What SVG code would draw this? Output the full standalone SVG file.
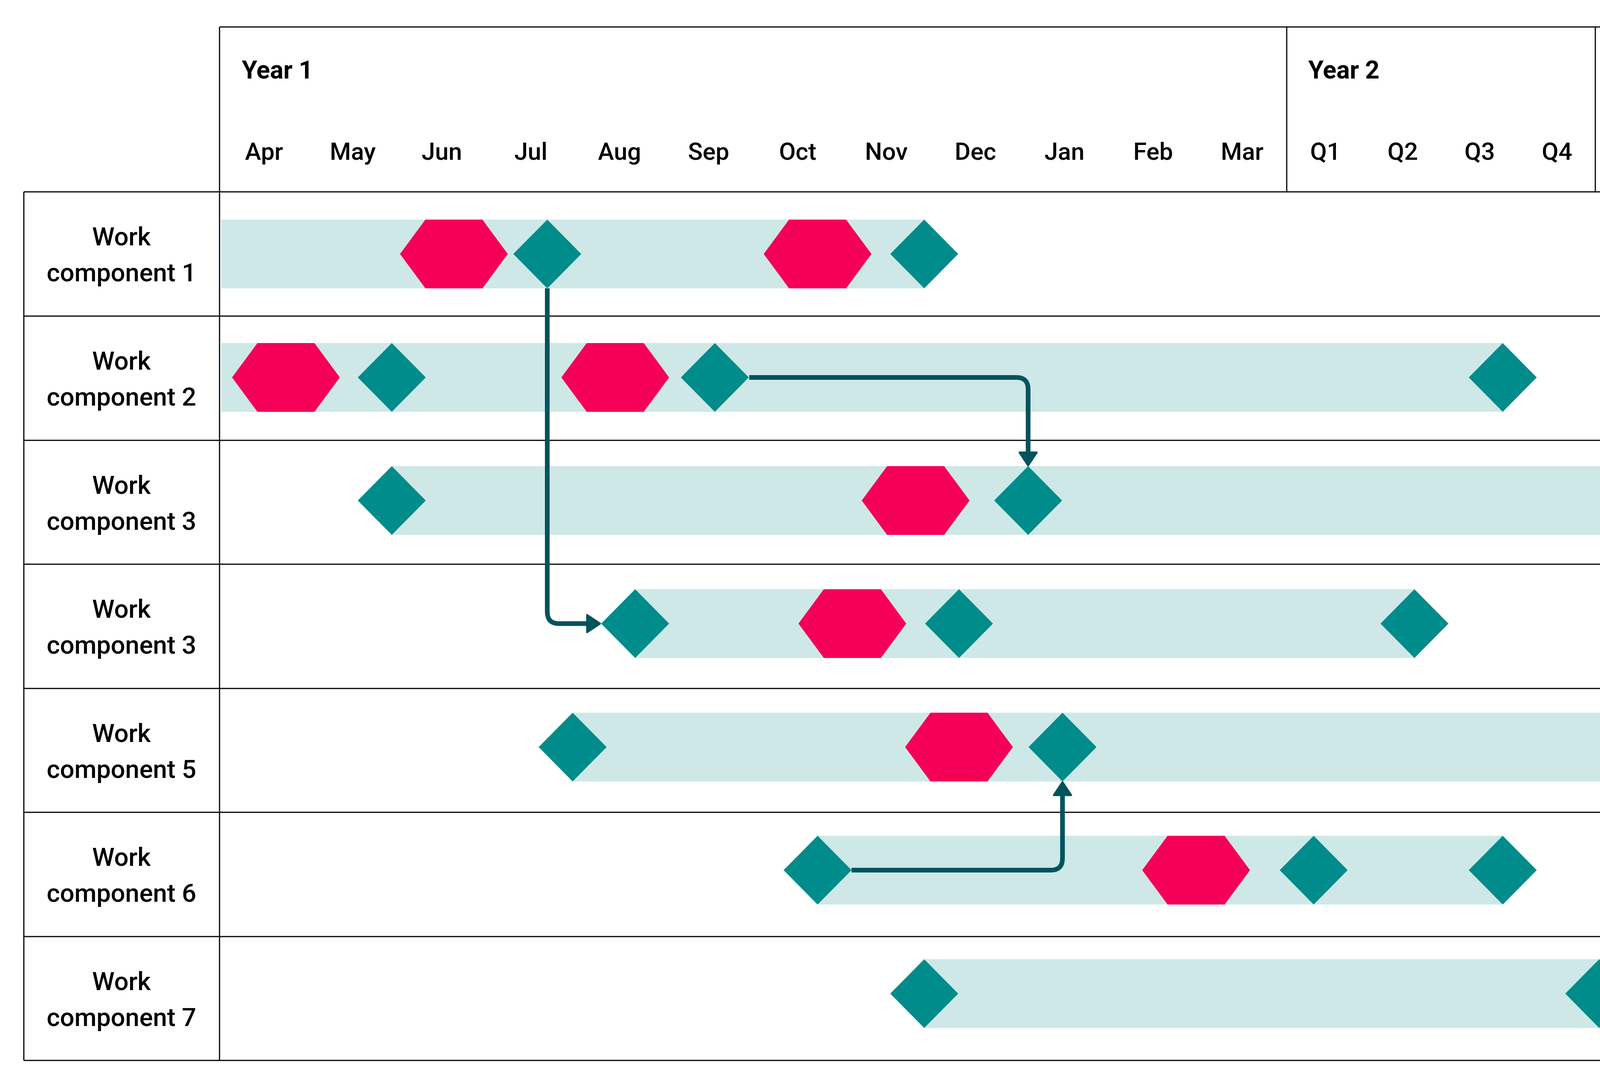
<svg xmlns="http://www.w3.org/2000/svg" width="5000" height="2782" viewBox="0 0 5000 2782">
<style>
.grid{stroke:#000;stroke-width:3;fill:none}
.bar{fill:#CEE8E8}
.hex{fill:#F50057}
.dia{fill:#008C8A}
.hdr{font-family:Roboto,"Liberation Sans",Arial,sans-serif;font-weight:700;font-size:64px;fill:#000}
.mon{font-family:Roboto,"Liberation Sans",Arial,sans-serif;font-weight:500;font-size:62px;fill:#000;text-anchor:middle}
.yc{text-anchor:middle}
.lbl{font-family:Roboto,"Liberation Sans",Arial,sans-serif;font-weight:500;font-size:65px;fill:#000;text-anchor:middle}
.con{stroke:#01535E;stroke-width:12;fill:none}
</style>
<defs>
<polygon id="hx" points="-138,0 -73,-88 73,-88 138,0 73,88 -73,88"/>
<polygon id="dm" points="0,-88 87,0 0,88 -87,0"/>
<marker id="arr" markerUnits="userSpaceOnUse" viewBox="0 0 40 50" refX="1" refY="25" markerWidth="40" markerHeight="50" orient="auto">
<path d="M3,3 L36,25 L3,47 Z" fill="#01535E" stroke="#01535E" stroke-width="5" stroke-linejoin="round"/>
</marker>
</defs>
<rect x="0" y="0" width="5000" height="2782" fill="#fff"/>

<g id="header">
<path class="grid" d="M562,69 H4939 V2714 M562,69 V2714 M3294,69 V491 M4084,69 V491 M4369,69 V491 M4654,69 V491"/>
<text class="hdr" x="619" y="201">Year 1</text>
<text class="hdr" x="3349" y="201">Year 2</text>
<text class="hdr yc" x="4226" y="260">Year</text>
<text class="hdr yc" x="4226" y="350">3</text>
<text class="hdr yc" x="4511" y="260">Year</text>
<text class="hdr yc" x="4511" y="350">4</text>
<text class="hdr yc" x="4796" y="260">Year</text>
<text class="hdr yc" x="4796" y="350">5</text>
<text class="mon" x="676" y="409">Apr</text>
<text class="mon" x="903" y="409">May</text>
<text class="mon" x="1131" y="409">Jun</text>
<text class="mon" x="1359" y="409">Jul</text>
<text class="mon" x="1586" y="409">Aug</text>
<text class="mon" x="1814" y="409">Sep</text>
<text class="mon" x="2042" y="409">Oct</text>
<text class="mon" x="2269" y="409">Nov</text>
<text class="mon" x="2497" y="409">Dec</text>
<text class="mon" x="2725" y="409">Jan</text>
<text class="mon" x="2952" y="409">Feb</text>
<text class="mon" x="3180" y="409">Mar</text>
<text class="mon" x="3393" y="409">Q1</text>
<text class="mon" x="3591" y="409">Q2</text>
<text class="mon" x="3788" y="409">Q3</text>
<text class="mon" x="3986" y="409">Q4</text>
</g>

<g id="rows-grid">
<path class="grid" d="M61,491 H4939 M61,809 H4939 M61,1127 H4939 M61,1444 H4939 M61,1762 H4939 M61,2079 H4939 M61,2397 H4939 M61,2714 H4939 M61,491 V2714"/>
</g>

<g id="row1">
<text class="lbl" x="311" y="628">Work</text>
<text class="lbl" x="311" y="720">component 1</text>
<rect class="bar" x="566" y="562" width="1800" height="176"/>
<use href="#hx" class="hex" x="1162" y="650"/>
<use href="#dm" class="dia" x="1401" y="650"/>
<use href="#hx" class="hex" x="2093" y="650"/>
<use href="#dm" class="dia" x="2366" y="650"/>
</g>

<g id="row2">
<text class="lbl" x="311" y="946">Work</text>
<text class="lbl" x="311" y="1038">component 2</text>
<rect class="bar" x="566" y="878" width="3281" height="176"/>
<use href="#hx" class="hex" x="732" y="966"/>
<use href="#dm" class="dia" x="1003" y="966"/>
<use href="#hx" class="hex" x="1575" y="966"/>
<use href="#dm" class="dia" x="1830" y="966"/>
<use href="#dm" class="dia" x="3847" y="966"/>
</g>

<g id="row3">
<text class="lbl" x="311" y="1264">Work</text>
<text class="lbl" x="311" y="1356">component 3</text>
<rect class="bar" x="1003" y="1193" width="3664" height="176"/>
<use href="#dm" class="dia" x="1003" y="1281"/>
<use href="#hx" class="hex" x="2344" y="1281"/>
<use href="#dm" class="dia" x="2632" y="1281"/>
<use href="#dm" class="dia" x="4667" y="1281"/>
</g>

<g id="row4">
<text class="lbl" x="311" y="1581">Work</text>
<text class="lbl" x="311" y="1673">component 3</text>
<rect class="bar" x="1626" y="1508" width="1995" height="176"/>
<use href="#dm" class="dia" x="1626" y="1596"/>
<use href="#hx" class="hex" x="2182" y="1596"/>
<use href="#dm" class="dia" x="2455" y="1596"/>
<use href="#dm" class="dia" x="3621" y="1596"/>
</g>

<g id="row5">
<text class="lbl" x="311" y="1899">Work</text>
<text class="lbl" x="311" y="1991">component 5</text>
<rect class="bar" x="1466" y="1824" width="2914" height="176"/>
<use href="#dm" class="dia" x="1466" y="1912"/>
<use href="#hx" class="hex" x="2455" y="1912"/>
<use href="#dm" class="dia" x="2720" y="1912"/>
<use href="#dm" class="dia" x="4380" y="1912"/>
</g>

<g id="row6">
<text class="lbl" x="311" y="2216">Work</text>
<text class="lbl" x="311" y="2308">component 6</text>
<rect class="bar" x="2093" y="2139" width="1754" height="176"/>
<use href="#dm" class="dia" x="2093" y="2227"/>
<use href="#hx" class="hex" x="3062" y="2227"/>
<use href="#dm" class="dia" x="3363" y="2227"/>
<use href="#dm" class="dia" x="3847" y="2227"/>
</g>

<g id="row7">
<text class="lbl" x="311" y="2534">Work</text>
<text class="lbl" x="311" y="2626">component 7</text>
<rect class="bar" x="2366" y="2455" width="2573" height="176"/>
<use href="#dm" class="dia" x="2366" y="2543"/>
<use href="#dm" class="dia" x="4094" y="2543"/>
</g>

<g id="connectors">
<path class="con" marker-end="url(#arr)" d="M1401,738 V1566 Q1401,1596 1431,1596 H1501"/>
<path class="con" marker-end="url(#arr)" d="M1918,966 H2602 Q2632,966 2632,996 V1156"/>
<path class="con" marker-end="url(#arr)" d="M2180,2227 H2690 Q2720,2227 2720,2197 V2037"/>
</g>
</svg>
